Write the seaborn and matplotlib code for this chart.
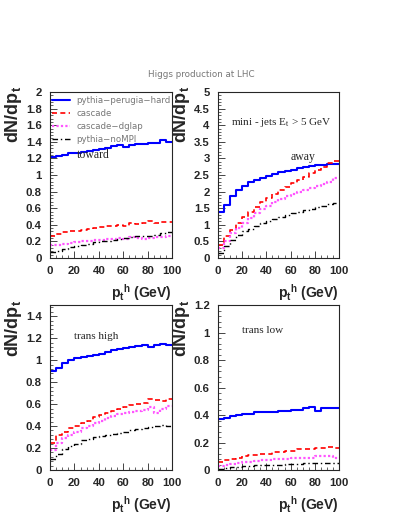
import numpy as np
import pandas as pd
import matplotlib
matplotlib.use("Agg")
from matplotlib import pyplot as plt
from matplotlib.ticker import AutoMinorLocator, FormatStrFormatter
import seaborn as sns

# 20 bins of 5 GeV in pt of the Higgs
edges = np.arange(0, 105, 5)
centers = edges[:-1] + 2.5

series = ['pythia\u2212perugia\u2212hard', 'cascade', 'cascade\u2212dglap', 'pythia\u2212noMPI']

# toward region
toward_perugia = [1.22, 1.23, 1.24, 1.26, 1.27, 1.28, 1.29, 1.30, 1.31, 1.32, 1.35, 1.36, 1.34, 1.36, 1.37, 1.37, 1.38, 1.39, 1.42, 1.40]
toward_cascade = [0.27, 0.29, 0.31, 0.32, 0.33, 0.34, 0.35, 0.36, 0.37, 0.38, 0.39, 0.40, 0.39, 0.42, 0.41, 0.42, 0.44, 0.42, 0.43, 0.43]
toward_dglap = [0.16, 0.16, 0.17, 0.18, 0.19, 0.20, 0.21, 0.22, 0.22, 0.23, 0.23, 0.24, 0.23, 0.25, 0.24, 0.23, 0.24, 0.25, 0.25, 0.26]
toward_nompi = [0.07, 0.09, 0.11, 0.13, 0.14, 0.16, 0.17, 0.19, 0.20, 0.21, 0.22, 0.23, 0.24, 0.25, 0.26, 0.26, 0.27, 0.28, 0.30, 0.31]

# away region
away_perugia = [1.39, 1.60, 1.87, 2.05, 2.17, 2.28, 2.35, 2.42, 2.48, 2.53, 2.58, 2.62, 2.66, 2.70, 2.73, 2.76, 2.79, 2.81, 2.83, 2.83]
away_cascade = [0.40, 0.65, 0.85, 1.05, 1.25, 1.40, 1.55, 1.70, 1.82, 1.93, 2.05, 2.15, 2.25, 2.35, 2.45, 2.55, 2.65, 2.75, 2.85, 2.92]
away_dglap = [0.30, 0.50, 0.75, 0.90, 1.05, 1.20, 1.35, 1.48, 1.58, 1.68, 1.78, 1.86, 1.94, 2.00, 2.06, 2.12, 2.18, 2.24, 2.30, 2.40]
away_nompi = [0.15, 0.35, 0.55, 0.70, 0.80, 0.88, 0.97, 1.05, 1.12, 1.18, 1.24, 1.30, 1.35, 1.40, 1.44, 1.48, 1.53, 1.57, 1.62, 1.66]

# trans high region
high_perugia = [0.90, 0.93, 0.97, 1.00, 1.02, 1.03, 1.04, 1.05, 1.06, 1.07, 1.09, 1.10, 1.11, 1.12, 1.13, 1.14, 1.12, 1.14, 1.15, 1.14]
high_cascade = [0.25, 0.32, 0.35, 0.38, 0.40, 0.43, 0.45, 0.48, 0.50, 0.52, 0.54, 0.56, 0.57, 0.59, 0.60, 0.61, 0.65, 0.64, 0.63, 0.65]
high_dglap = [0.18, 0.25, 0.29, 0.32, 0.35, 0.38, 0.40, 0.43, 0.45, 0.47, 0.49, 0.51, 0.52, 0.53, 0.54, 0.55, 0.57, 0.52, 0.56, 0.58]
high_nompi = [0.10, 0.15, 0.19, 0.22, 0.24, 0.27, 0.28, 0.30, 0.31, 0.32, 0.33, 0.34, 0.35, 0.36, 0.37, 0.38, 0.39, 0.40, 0.41, 0.40]

# trans low region
low_perugia = [0.37, 0.38, 0.39, 0.40, 0.41, 0.41, 0.42, 0.42, 0.42, 0.42, 0.43, 0.43, 0.44, 0.44, 0.45, 0.46, 0.43, 0.45, 0.45, 0.45]
low_cascade = [0.06, 0.07, 0.08, 0.09, 0.10, 0.11, 0.11, 0.12, 0.12, 0.13, 0.13, 0.14, 0.14, 0.15, 0.15, 0.15, 0.16, 0.16, 0.17, 0.16]
low_dglap = [0.03, 0.04, 0.045, 0.05, 0.06, 0.06, 0.065, 0.07, 0.07, 0.08, 0.08, 0.08, 0.085, 0.09, 0.09, 0.09, 0.10, 0.10, 0.10, 0.09]
low_nompi = [0.01, 0.015, 0.02, 0.025, 0.03, 0.03, 0.035, 0.035, 0.04, 0.04, 0.04, 0.045, 0.045, 0.045, 0.05, 0.05, 0.05, 0.055, 0.055, 0.055]

panels = [
    ('toward', [toward_perugia, toward_cascade, toward_dglap, toward_nompi], 2.0, 0.2),
    ('away', [away_perugia, away_cascade, away_dglap, away_nompi], 5.0, 0.5),
    ('trans high', [high_perugia, high_cascade, high_dglap, high_nompi], 1.5, 0.2),
    ('trans low', [low_perugia, low_cascade, low_dglap, low_nompi], 1.2, 0.2),
]

colors = ['#0000ff', '#ff0000', '#ff55ff', '#000000']
styles = ['-', (0, (3, 2)), (0, (1, 1)), (0, (4, 2, 1, 2))]
widths = [1.5, 1.2, 1.6, 1.0]

sns.set_style('ticks')
plt.rcParams['font.family'] = ['Liberation Sans', 'DejaVu Sans']
plt.rcParams['mathtext.fontset'] = 'custom'
plt.rcParams['mathtext.bf'] = 'Liberation Sans:bold'
plt.rcParams['mathtext.rm'] = 'Liberation Serif'

fig = plt.figure(figsize=(4.07, 5.27), dpi=100)
boxes = [
    [0.1229, 0.5104, 0.2998, 0.315],
    [0.5356, 0.5104, 0.2973, 0.315],
    [0.1229, 0.1080, 0.2998, 0.313],
    [0.5356, 0.1080, 0.2973, 0.313],
]

axes = []
for box, (region, vals, ymax, ystep) in zip(boxes, panels):
    ax = fig.add_axes(box)
    axes.append(ax)
    for name, v, c, ls, lw in zip(series, vals, colors, styles, widths):
        df = pd.DataFrame({'pt': centers, 'w': v})
        sns.histplot(data=df, x='pt', weights='w', binwidth=5, binrange=(0, 100), element='step',
                     fill=False, color=c, linestyle=ls, linewidth=lw, label=name, ax=ax)
    ax.set_xlim(0, 100)
    ax.set_ylim(0, ymax)
    ax.set_xticks(np.arange(0, 101, 20))
    ax.set_yticks(np.arange(0, ymax + 1e-6, ystep))
    ax.yaxis.set_major_formatter(FormatStrFormatter('%g'))
    ax.xaxis.set_minor_locator(AutoMinorLocator(4))
    ax.yaxis.set_minor_locator(AutoMinorLocator(5))
    ax.tick_params(direction='in', which='major', length=5, width=0.6, pad=6, labelsize=8.2)
    ax.tick_params(direction='in', which='minor', length=2.5, width=0.5)
    for lab in ax.get_xticklabels() + ax.get_yticklabels():
        lab.set_fontweight('bold')
    for sp in ax.spines.values():
        sp.set_linewidth(0.8)
    ax.set_xlabel('p$_\\mathbf{t}$$^\\mathbf{h}$ (GeV)', fontsize=10, fontweight='bold', loc='right', labelpad=4)
    ax.set_ylabel('dN/dp$_\\mathbf{t}$', fontsize=13, fontweight='bold', loc='top')
    ax.yaxis.set_label_coords(-0.215, 1.035)

serif = ['Liberation Serif', 'DejaVu Serif']
axes[0].text(22, 1.2, 'toward', family=serif, fontsize=8.5)
axes[1].text(11, 4.0, 'mini - jets E$_\\mathrm{t}$ > 5 GeV', family=serif, fontsize=8)
axes[1].text(60, 2.95, 'away', family=serif, fontsize=8.5)
axes[2].text(20, 1.19, 'trans high', family=serif, fontsize=8)
axes[3].text(20, 1.0, 'trans low', family=serif, fontsize=8)

leg = axes[0].legend(loc='upper left', bbox_to_anchor=(0.0, 0.985), frameon=False,
                     handlelength=2.1, handletextpad=0.8, labelspacing=0.45,
                     borderaxespad=0, borderpad=0.2, prop={'family': 'DejaVu Sans', 'size': 6.2})
for t in leg.get_texts():
    t.set_color('#777777')

fig.text(0.495, 0.858, 'Higgs production at LHC', ha='center', va='center',
         fontsize=6.3, color='#777777', family='DejaVu Sans')

fig.savefig('out.png', dpi=100)
